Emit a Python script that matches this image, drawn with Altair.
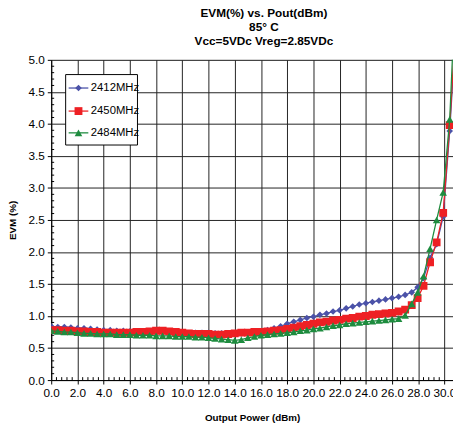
import altair as alt
import pandas as pd

# ---------------- data ----------------
x_vals = [0.0, 0.5, 1.0, 1.5, 2.0, 2.5, 3.0, 3.5, 4.0, 4.5, 5.0, 5.5, 6.0, 6.5, 7.0, 7.5,
          8.0, 8.5, 9.0, 9.5, 10.0, 10.5, 11.0, 11.5, 12.0, 12.5, 13.0, 13.5, 14.0, 14.5,
          15.0, 15.5, 16.0, 16.5, 17.0, 17.5, 18.0, 18.5, 19.0, 19.5, 20.0, 20.5, 21.0,
          21.5, 22.0, 22.5, 23.0, 23.5, 24.0, 24.5, 25.0, 25.5, 26.0, 26.5, 27.0, 27.5,
          27.95, 28.4, 28.9, 29.4, 29.9, 30.4, 30.9]

evm_2412 = [0.84, 0.83, 0.83, 0.82, 0.81, 0.81, 0.80, 0.79, 0.78, 0.78, 0.77, 0.77, 0.76,
            0.76, 0.75, 0.75, 0.74, 0.74, 0.74, 0.73, 0.73, 0.73, 0.74, 0.74, 0.74, 0.73,
            0.73, 0.73, 0.73, 0.73, 0.74, 0.75, 0.76, 0.78, 0.81, 0.84, 0.88, 0.91, 0.94,
            0.97, 0.99, 1.02, 1.04, 1.07, 1.09, 1.12, 1.15, 1.18, 1.20, 1.22, 1.24, 1.26,
            1.28, 1.30, 1.33, 1.37, 1.45, 1.59, 1.91, 2.12, 2.55, 3.89, 5.6]

evm_2450 = [0.78, 0.78, 0.77, 0.77, 0.76, 0.76, 0.75, 0.75, 0.74, 0.74, 0.74, 0.74, 0.74,
            0.75, 0.75, 0.76, 0.77, 0.77, 0.76, 0.75, 0.74, 0.73, 0.72, 0.72, 0.72, 0.71,
            0.71, 0.72, 0.73, 0.74, 0.74, 0.75, 0.75, 0.76, 0.77, 0.78, 0.80, 0.82, 0.84,
            0.86, 0.88, 0.90, 0.91, 0.93, 0.94, 0.96, 0.97, 0.99, 1.00, 1.02, 1.03, 1.04,
            1.05, 1.07, 1.10, 1.17, 1.28, 1.47, 1.84, 2.15, 2.61, 3.98, 5.7]

evm_2484 = [0.77, 0.76, 0.75, 0.75, 0.74, 0.73, 0.73, 0.72, 0.72, 0.72, 0.71, 0.71, 0.71,
            0.70, 0.70, 0.70, 0.69, 0.69, 0.69, 0.68, 0.68, 0.68, 0.67, 0.67, 0.66, 0.65,
            0.64, 0.63, 0.62, 0.63, 0.66, 0.68, 0.70, 0.71, 0.72, 0.73, 0.74, 0.75, 0.77,
            0.78, 0.80, 0.81, 0.83, 0.85, 0.86, 0.88, 0.89, 0.90, 0.91, 0.92, 0.93, 0.94,
            0.95, 0.96, 1.01, 1.19, 1.37, 1.62, 2.05, 2.50, 2.93, 4.07, 6.4]

series_names = ["2412MHz", "2450MHz", "2484MHz"]
series_values = [evm_2412, evm_2450, evm_2484]
series_colors = ["#4B52A8", "#EE2024", "#1E8C3F"]
series_shapes = ["diamond", "square", "triangle-up"]
series_sizes = [45, 64, 60]

x_ticks = [0.0, 2.0, 4.0, 6.0, 8.0, 10.0, 12.0, 14.0, 16.0, 18.0, 20.0, 22.0, 24.0,
           26.0, 28.0, 30.0]
y_ticks = [0.0, 0.5, 1.0, 1.5, 2.0, 2.5, 3.0, 3.5, 4.0, 4.5, 5.0]
x_minor = [0.4, 0.8, 1.2, 1.6, 2.4, 2.8, 3.2, 3.6, 4.4, 4.8, 5.2, 5.6, 6.4, 6.8, 7.2, 7.6,
           8.4, 8.8, 9.2, 9.6, 10.4, 10.8, 11.2, 11.6, 12.4, 12.8, 13.2, 13.6, 14.4, 14.8,
           15.2, 15.6, 16.4, 16.8, 17.2, 17.6, 18.4, 18.8, 19.2, 19.6, 20.4, 20.8, 21.2,
           21.6, 22.4, 22.8, 23.2, 23.6, 24.4, 24.8, 25.2, 25.6, 26.4, 26.8, 27.2, 27.6,
           28.4, 28.8, 29.2, 29.6]
y_minor = [0.1, 0.2, 0.3, 0.4, 0.6, 0.7, 0.8, 0.9, 1.1, 1.2, 1.3, 1.4, 1.6, 1.7, 1.8, 1.9,
           2.1, 2.2, 2.3, 2.4, 2.6, 2.7, 2.8, 2.9, 3.1, 3.2, 3.3, 3.4, 3.6, 3.7, 3.8, 3.9,
           4.1, 4.2, 4.3, 4.4, 4.6, 4.7, 4.8, 4.9]

# ---------------- layout constants ----------------
W, H = 409, 326
FONT = "Liberation Sans"
xs = alt.Scale(domain=[0, 30.65], nice=False, zero=False)
ys = alt.Scale(domain=[0, 5], nice=False)

# legend box (in data units)
LEG_X0, LEG_X1, LEG_Y0, LEG_Y1 = 1.1, 6.58, 4.77, 3.67
LEG_ROWS = [4.56, 4.2, 3.86]
LEG_LINE0, LEG_LINE1, LEG_MARK, LEG_TEXT = 1.33, 2.83, 2.08, 3.02

x_axis = alt.Axis(values=x_ticks, format=".1f", title="Output Power (dBm)",
                  grid=True, gridColor="#222222", gridWidth=1, gridOpacity=1,
                  domainColor="black", domainWidth=1, tickColor="black", tickSize=4,
                  labelPadding=4, labelFontSize=12, labelFont=FONT, labelColor="black",
                  labelFlush=False, labelOverlap=False,
                  titleFont=FONT, titleFontSize=10, titleFontWeight="bold",
                  titleColor="black", titleBaseline="alphabetic", titleY=41)
y_axis = alt.Axis(values=y_ticks, format=".1f", title="EVM (%)",
                  grid=True, gridColor="#222222", gridWidth=1, gridOpacity=1,
                  domainColor="black", domainWidth=1, tickColor="black", tickSize=4,
                  labelPadding=3, labelFontSize=12, labelFont=FONT, labelColor="black",
                  labelFlush=False, labelOverlap=False,
                  titleFont=FONT, titleFontSize=10, titleFontWeight="bold",
                  titleColor="black", titleBaseline="alphabetic", titleX=-36)


def X(field):
    return alt.X(field, type="quantitative", scale=xs, axis=x_axis)


def Y(field):
    return alt.Y(field, type="quantitative", scale=ys, axis=y_axis)


layers = []

xminor_layer = alt.Chart(pd.DataFrame({"xm": x_minor})).mark_rule(
    color="black", strokeWidth=1).encode(
    x=X("xm"), y=alt.value(H - 3), y2=alt.value(H))
yminor_layer = alt.Chart(pd.DataFrame({"ym": y_minor})).mark_rule(
    color="black", strokeWidth=1).encode(
    y=Y("ym"), x=alt.value(0), x2=alt.value(3))
layers += [xminor_layer, yminor_layer]

for name, vals, col, shp, sz in zip(series_names, series_values, series_colors,
                                    series_shapes, series_sizes):
    df = pd.DataFrame({"x": x_vals, "y": vals})
    line = alt.Chart(df).mark_line(color=col, strokeWidth=1.3, clip=True).encode(
        x=X("x"), y=Y("y"))
    pts = alt.Chart(df).mark_point(shape=shp, filled=True, opacity=1, color=col,
                                   size=sz, clip=True).encode(x=X("x"), y=Y("y"))
    layers += [line, pts]

# legend
box = alt.Chart(pd.DataFrame({"a": [LEG_X0], "b": [LEG_X1], "c": [LEG_Y0], "d": [LEG_Y1]})
                ).mark_rect(fill="white", stroke="black", strokeWidth=1).encode(
    x=X("a"), x2="b", y=Y("c"), y2="d")
layers.append(box)
for name, col, shp, sz, ry in zip(series_names, series_colors, series_shapes,
                                  series_sizes, LEG_ROWS):
    ldf = pd.DataFrame({"x0": [LEG_LINE0], "x1": [LEG_LINE1], "xm": [LEG_MARK],
                        "xt": [LEG_TEXT], "y": [ry], "label": [name]})
    lr = alt.Chart(ldf).mark_rule(color=col, strokeWidth=1.3).encode(
        x=X("x0"), x2="x1", y=Y("y"))
    lp = alt.Chart(ldf).mark_point(shape=shp, filled=True, opacity=1, color=col,
                                   size=sz).encode(x=X("xm"), y=Y("y"))
    lt = alt.Chart(ldf).mark_text(align="left", baseline="middle", font=FONT,
                                  fontSize=11.5, color="black").encode(
        x=X("xt"), y=Y("y"), text="label:N")
    layers += [lr, lp, lt]

chart = alt.layer(*layers).properties(
    width=W, height=H,
    autosize=alt.AutoSizeParams(type="none"),
    padding={"left": 44, "top": 49, "right": 0, "bottom": 45},
    title=alt.Title(["EVM(%) vs. Pout(dBm)", "85° C", "Vcc=5VDc Vreg=2.85VDc"],
                    font=FONT, fontSize=12, fontWeight="bold", color="black",
                    lineHeight=14.5, anchor="middle", dx=12, offset=6),
).configure_view(stroke=None).configure(background="white")

chart.save("out.html", embed_options={"renderer": "svg", "actions": False})
